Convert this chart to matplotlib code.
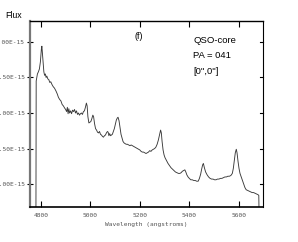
import matplotlib
matplotlib.use("Agg")
import matplotlib.pyplot as plt
from matplotlib.ticker import FuncFormatter

# spectrum (wavelength in angstroms, flux in 1e-15 units)
wave = [4780, 4781, 4786, 4790, 4794, 4798, 4802, 4804, 4806, 4809, 4812, 4815,
        4818, 4821, 4824, 4828, 4832, 4836, 4840, 4845, 4850, 4855, 4861, 4866,
        4871, 4876, 4881, 4886, 4891, 4896, 4900, 4904, 4907, 4910, 4913, 4916,
        4920, 4924, 4928, 4932, 4936, 4940, 4944, 4948, 4952, 4956, 4960, 4964,
        4968, 4972, 4976, 4980, 4984, 4987, 4990, 4994, 4998, 5002, 5006, 5010,
        5013, 5017, 5021, 5025, 5029, 5033, 5037, 5041, 5045, 5049, 5053, 5057,
        5061, 5065, 5069, 5072, 5075, 5078, 5082, 5085, 5089, 5093, 5097, 5101,
        5105, 5109, 5112, 5116, 5120, 5124, 5128, 5132, 5136, 5140, 5145, 5150,
        5155, 5160, 5165, 5170, 5175, 5180, 5185, 5190, 5195, 5200, 5205, 5210,
        5215, 5220, 5225, 5230, 5235, 5240, 5245, 5250, 5255, 5260, 5265, 5270,
        5275, 5280, 5284, 5287, 5290, 5294, 5298, 5302, 5308, 5314, 5320, 5326,
        5332, 5338, 5344, 5350, 5356, 5362, 5367, 5372, 5377, 5382, 5386, 5390,
        5395, 5400, 5406, 5412, 5418, 5424, 5430, 5436, 5441, 5446, 5450, 5454,
        5457, 5461, 5466, 5472, 5478, 5484, 5490, 5496, 5502, 5508, 5514, 5520,
        5526, 5532, 5538, 5544, 5550, 5556, 5562, 5568, 5574, 5578, 5582, 5586,
        5590, 5593, 5597, 5601, 5605, 5610, 5615, 5620, 5625, 5630, 5636, 5642,
        5648, 5654, 5660, 5666, 5672, 5678, 5681, 5682]
flux = [0.60, 2.45, 2.55, 2.58, 2.62, 2.72, 2.90, 2.94, 2.85, 2.70, 2.58, 2.53,
        2.55, 2.50, 2.52, 2.48, 2.47, 2.43, 2.44, 2.40, 2.37, 2.35, 2.31, 2.27,
        2.22, 2.19, 2.17, 2.12, 2.10, 2.07, 2.05, 2.02, 2.08, 1.99, 2.06, 2.00,
        2.03, 1.99, 2.04, 2.02, 2.05, 2.00, 2.03, 1.98, 2.00, 1.97, 1.99, 2.00,
        1.98, 2.02, 2.03, 2.08, 2.14, 2.10, 1.95, 1.86, 1.87, 1.88, 1.92, 1.97,
        1.95, 1.85, 1.78, 1.76, 1.73, 1.72, 1.74, 1.70, 1.69, 1.67, 1.66, 1.68,
        1.69, 1.72, 1.74, 1.73, 1.68, 1.71, 1.68, 1.69, 1.70, 1.74, 1.78, 1.84,
        1.90, 1.93, 1.94, 1.89, 1.79, 1.70, 1.65, 1.60, 1.58, 1.57, 1.56, 1.56,
        1.55, 1.54, 1.55, 1.54, 1.53, 1.52, 1.51, 1.50, 1.49, 1.48, 1.46, 1.45,
        1.45, 1.44, 1.43, 1.44, 1.45, 1.47, 1.46, 1.48, 1.49, 1.50, 1.52, 1.56,
        1.62, 1.70, 1.76, 1.72, 1.60, 1.48, 1.41, 1.37, 1.33, 1.29, 1.26, 1.23,
        1.21, 1.19, 1.17, 1.16, 1.15, 1.15, 1.16, 1.18, 1.19, 1.20, 1.17, 1.13,
        1.10, 1.08, 1.06, 1.06, 1.05, 1.05, 1.04, 1.04, 1.08, 1.14, 1.21, 1.27,
        1.29, 1.23, 1.17, 1.13, 1.10, 1.08, 1.07, 1.07, 1.06, 1.06, 1.07, 1.07,
        1.08, 1.08, 1.09, 1.10, 1.10, 1.11, 1.11, 1.12, 1.15, 1.22, 1.33, 1.44,
        1.49, 1.44, 1.32, 1.22, 1.15, 1.10, 1.05, 1.00, 0.95, 0.92, 0.91, 0.90,
        0.89, 0.88, 0.88, 0.87, 0.86, 0.85, 0.84, 0.60]

xticks = [4800, 5000, 5200, 5400, 5600]
yticks = [1.0, 1.5, 2.0, 2.5, 3.0]
info = ["QSO-core", "PA = 041", '[0",0"]']

fig = plt.figure(figsize=(2.98, 2.42), dpi=100)
ax = fig.add_axes([30/298, 1 - 207/242, 233/298, 186/242])

ax.plot(wave, flux, color="#3a3a3a", lw=0.65)
ax.set_xlim(4756, 5698)
ax.set_ylim(0.677, 3.295)

ax.set_xticks(xticks)
ax.set_yticks(yticks)
ax.yaxis.set_major_formatter(FuncFormatter(lambda v, p: f"{v:.2f}E-15"))

mono = "DejaVu Sans Mono"
ax.tick_params(axis="x", which="both", direction="in", top=True, length=4,
               width=0.8, pad=4, labelsize=4.5, labelcolor="#555555")
ax.tick_params(axis="y", which="both", direction="inout", right=False, length=5,
               width=0.8, pad=1, labelsize=4.5, labelcolor="#555555")
for lab in ax.get_xticklabels() + ax.get_yticklabels():
    lab.set_family(mono)

# right side ticks pointing inward
for yv in yticks:
    ax.plot([1.0, 0.985], [yv, yv], transform=ax.get_yaxis_transform(),
            color="black", lw=0.8, clip_on=False)

ax.spines["left"].set_color("#777777")
ax.spines["left"].set_linewidth(1.6)
ax.spines["bottom"].set_linewidth(1.2)
ax.spines["top"].set_linewidth(1.0)
ax.spines["right"].set_linewidth(0.8)

ax.set_xlabel("Wavelength (angstroms)", family=mono, fontsize=4.5,
              color="#555555", labelpad=3)

sans = "Liberation Sans"
fig.text(5/298, 1 - 15/242, "Flux", family=sans, fontsize=6.3, va="center")
ax.text(0.468, 0.916, "(f)", transform=ax.transAxes, family=sans, fontsize=6.5,
        ha="center", va="center")
for i, s in enumerate(info):
    ax.text(0.700, 0.893 - i * 0.081, s, transform=ax.transAxes, family=sans,
            fontsize=6.8, ha="left", va="center")

fig.savefig("out.png", dpi=100)
